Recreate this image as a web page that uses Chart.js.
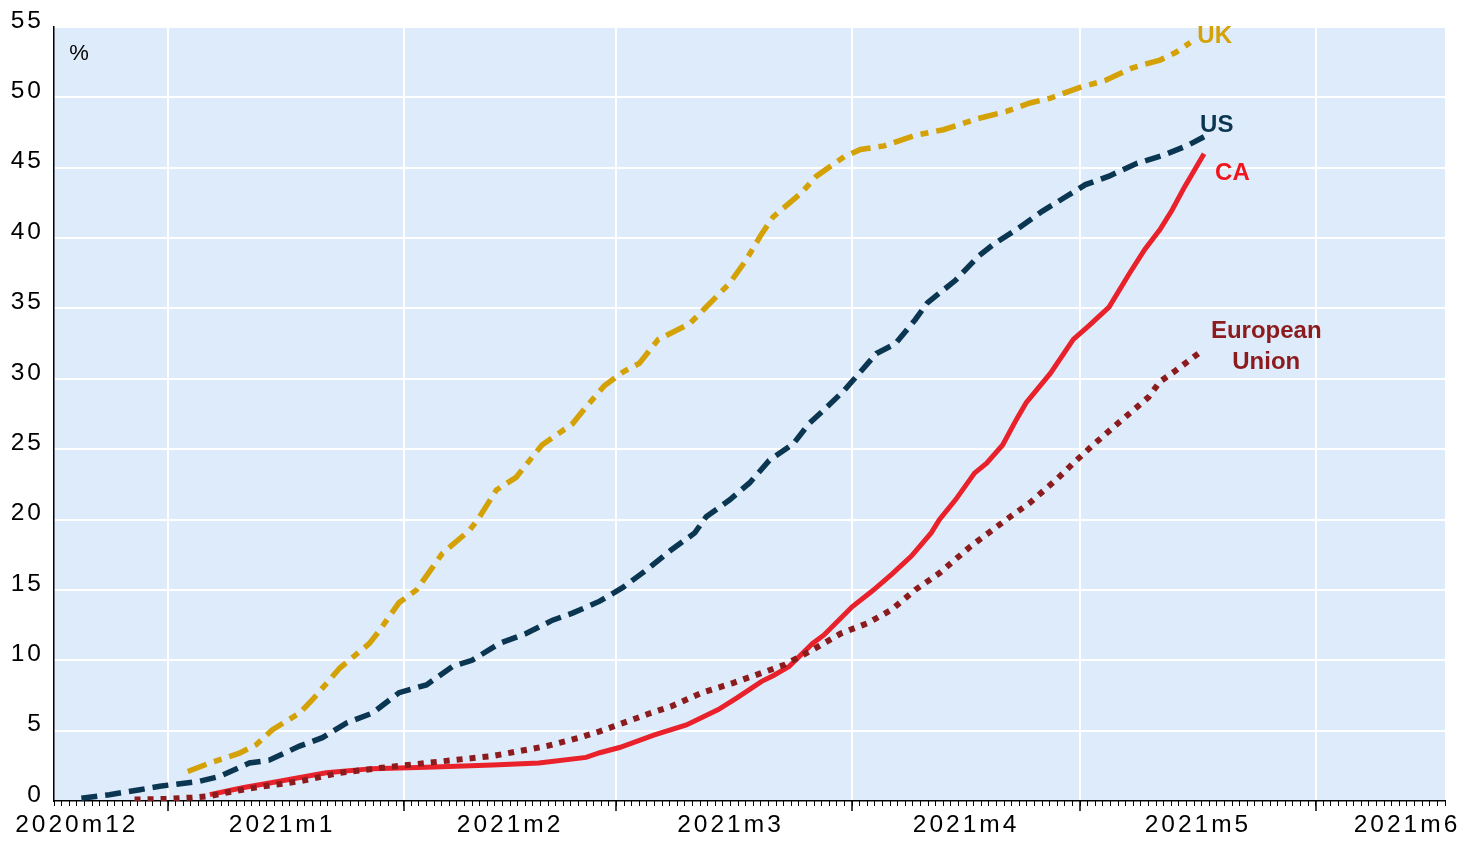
<!DOCTYPE html>
<html>
<head>
<meta charset="utf-8">
<script src="https://cdn.jsdelivr.net/npm/chart.js@4.4.1/dist/chart.umd.min.js"></script>
<style>
  html, body { margin: 0; padding: 0; background: #ffffff; }
  canvas { display: block; }
</style>
</head>
<body>
<canvas id="c" width="1479" height="842"></canvas>
<script>
// x values are days since 2021-01-01
const xMin = -15;
const xMax = 168;
const monthStartDays = [0, 31, 59, 90, 120, 151];
const monthLabelDays = [-12, 15, 45, 74, 105, 135.5, 163];
const monthLabels = ['2020m12', '2021m1', '2021m2', '2021m3', '2021m4', '2021m5', '2021m6'];

const ukDays = [2.6, 5.5, 9.4, 11.6, 13.7, 17.3, 19.0, 22.6, 26.5, 27.8, 30.4, 32.7, 36.1, 39.7, 41.0, 43.2, 45.8, 49.2, 53.2, 55.0, 57.4, 59.9, 62.0, 64.5, 68.6, 70.8, 73.9, 76.0, 78.1, 79.6, 83.3, 85.3, 89.0, 91.1, 94.2, 98.3, 102.0, 106.6, 110.3, 113.4, 116.1, 120.2, 123.3, 126.9, 130.5, 132.6, 134.5];
const ukValues = [2.1, 2.7, 3.4, 4.0, 5.05, 6.25, 7.2, 9.45, 11.2, 12.1, 14.1, 15.0, 17.6, 19.25, 20.2, 22.1, 23.0, 25.3, 26.8, 28.0, 29.5, 30.5, 31.1, 32.8, 33.9, 35.1, 36.8, 38.4, 40.3, 41.5, 43.2, 44.4, 45.8, 46.3, 46.55, 47.3, 47.7, 48.5, 49.0, 49.6, 49.95, 50.75, 51.2, 52.1, 52.65, 53.2, 53.9];

const usDays = [-11.4, -7.7, -3.7, -1.1, 4.1, 6.8, 10.7, 13.3, 17.3, 20.3, 23.5, 26.9, 30.4, 34.0, 37.4, 40.0, 43.6, 47.1, 50.6, 53.2, 56.8, 59.9, 62.9, 66.1, 69.3, 70.8, 73.9, 76.5, 79.1, 82.3, 84.3, 86.3, 89.0, 91.1, 93.2, 95.7, 98.3, 99.9, 103.6, 106.6, 108.7, 111.9, 115.0, 118.0, 120.7, 123.8, 127.4, 131.0, 134.2, 136.3];
const usValues = [0.2, 0.45, 0.8, 1.05, 1.4, 1.75, 2.7, 2.9, 3.9, 4.5, 5.55, 6.25, 7.7, 8.25, 9.55, 10.0, 11.2, 11.9, 12.85, 13.35, 14.2, 15.2, 16.4, 17.8, 19.05, 20.2, 21.4, 22.6, 24.2, 25.4, 26.8, 27.8, 29.2, 30.5, 31.8, 32.5, 34.2, 35.4, 37.0, 38.7, 39.6, 40.7, 41.9, 42.9, 43.8, 44.4, 45.3, 45.9, 46.6, 47.2];

const caDays = [5.5, 9.8, 14.3, 20.8, 26.9, 34.0, 42.7, 48.8, 55.0, 56.8, 59.4, 64.0, 68.2, 72.4, 74.9, 78.1, 79.6, 81.7, 84.8, 86.3, 90.0, 92.6, 95.2, 97.8, 100.4, 101.5, 103.6, 106.1, 107.7, 109.8, 111.6, 112.9, 116.1, 119.1, 121.2, 123.8, 126.5, 128.5, 130.5, 132.1, 133.7, 136.3];
const caValues = [0.45, 0.94, 1.37, 2.0, 2.3, 2.4, 2.55, 2.7, 3.1, 3.43, 3.8, 4.7, 5.4, 6.5, 7.35, 8.5, 8.9, 9.55, 11.2, 11.8, 13.8, 14.9, 16.1, 17.4, 19.05, 20.0, 21.4, 23.3, 24.0, 25.3, 27.1, 28.3, 30.4, 32.8, 33.8, 35.1, 37.5, 39.2, 40.6, 42.0, 43.6, 46.0];

const euDays = [-4.4, -0.2, 3.2, 5.5, 7.7, 12.0, 17.3, 22.6, 28.7, 35.7, 42.7, 49.8, 54.1, 56.8, 59.9, 63.5, 66.1, 70.3, 74.4, 78.1, 81.2, 84.8, 88.5, 92.1, 95.2, 98.3, 101.5, 105.6, 110.3, 113.4, 117.1, 119.1, 121.7, 124.9, 129.0, 130.5, 132.6, 135.8];
const euValues = [0.1, 0.15, 0.25, 0.35, 0.6, 1.0, 1.4, 2.0, 2.4, 2.8, 3.2, 3.9, 4.5, 4.95, 5.55, 6.25, 6.7, 7.7, 8.4, 9.1, 9.7, 10.75, 11.9, 12.65, 13.6, 15.0, 16.2, 18.1, 20.0, 21.2, 22.95, 24.0, 25.3, 26.8, 28.7, 29.8, 30.6, 31.9];

const seriesNames = ['UK', 'US', 'European Union', 'CA'];
const seriesColors = ['#D4A106', '#0B3651', '#8C1B1D', '#E9212B'];
const labelColors = ['#D4A106', '#0B3651', '#8C1B1D', '#F0141E'];
const endLabels = [['UK'], ['US'], ['European', 'Union'], ['CA']];

function pts(days, vals) { return days.map((d, i) => ({ x: d, y: vals[i] })); }

const FONT = '"Liberation Sans", Arial, Helvetica, sans-serif';
const TICK_SPACING = '3px';

const decorPlugin = {
  id: 'decor',
  beforeLayout(chart) { chart.ctx.letterSpacing = TICK_SPACING; },
  beforeDraw(chart) {
    const { ctx, chartArea: a } = chart;
    ctx.letterSpacing = TICK_SPACING;
    ctx.save();
    ctx.fillStyle = '#DEEBFA';
    ctx.fillRect(a.left, a.top, a.right - a.left, a.bottom - a.top);
    ctx.restore();
  },
  afterDatasetsDraw(chart) {
    const { ctx, chartArea: a } = chart;
    ctx.save();
    ctx.letterSpacing = '0px';
    ctx.fillStyle = '#000';
    ctx.font = '22px ' + FONT;
    ctx.textAlign = 'center';
    ctx.textBaseline = 'middle';
    ctx.fillText('%', a.left + 25, a.top + 27);
    // end-of-line labels anchored to the last point of each series
    const offsets = [
      { dx: 7, dy: -6, align: 'left' },
      { dx: -4, dy: -11, align: 'left' },
      { dx: 66, dy: -21, align: 'center' },
      { dx: 11, dy: 20, align: 'left' }
    ];
    ctx.font = 'bold 24px ' + FONT;
    chart.data.datasets.forEach((ds, i) => {
      const meta = chart.getDatasetMeta(i);
      const last = meta.data[meta.data.length - 1];
      const o = offsets[i];
      ctx.fillStyle = labelColors[i];
      ctx.textAlign = o.align;
      endLabels[i].forEach((line, k) => {
        ctx.fillText(line, last.x + o.dx, last.y + o.dy + k * 31);
      });
    });
    ctx.restore();
    ctx.letterSpacing = TICK_SPACING;
  }
};

const tickFont = { family: FONT, size: 24.5 };

new Chart(document.getElementById('c'), {
  type: 'line',
  data: {
    datasets: [
      { label: seriesNames[0], data: pts(ukDays, ukValues), borderColor: seriesColors[0], borderWidth: 5.5, borderDash: [20, 8, 8, 8] },
      { label: seriesNames[1], data: pts(usDays, usValues), borderColor: seriesColors[1], borderWidth: 5.5, borderDash: [16, 8] },
      { label: seriesNames[2], data: pts(euDays, euValues), borderColor: seriesColors[2], borderWidth: 6, borderDash: [6, 7] },
      { label: seriesNames[3], data: pts(caDays, caValues), borderColor: seriesColors[3], borderWidth: 5 }
    ].map(d => Object.assign({ pointRadius: 0, pointHoverRadius: 0, tension: 0, fill: false, xAxisID: 'x', yAxisID: 'y' }, d))
  },
  options: {
    responsive: false,
    devicePixelRatio: 1,
    animation: false,
    events: [],
    layout: { padding: { top: 27, right: 34, left: 0, bottom: 0 } },
    plugins: { legend: { display: false }, tooltip: { enabled: false } },
    scales: {
      x: {
        type: 'linear', position: 'bottom', min: xMin, max: xMax,
        afterBuildTicks: s => { s.ticks = monthLabelDays.map(v => ({ value: v })); },
        afterFit: s => { s.height = 41; },
        grid: { display: false, drawTicks: false },
        border: { display: true, color: '#000', width: 1.5 },
        ticks: { autoSkip: false, maxRotation: 0, minRotation: 0, padding: 10, color: '#000', font: tickFont,
          callback: (v, i) => monthLabels[i] }
      },
      xg: {
        type: 'linear', axis: 'x', position: { y: 0 }, min: xMin, max: xMax,
        afterBuildTicks: s => { s.ticks = monthStartDays.map(v => ({ value: v })); },
        grid: { color: '#ffffff', lineWidth: 2, drawTicks: true, tickLength: 10, tickColor: '#000', tickWidth: 1.5 },
        border: { display: false },
        ticks: { display: false, autoSkip: false }
      },
      xd: {
        type: 'linear', axis: 'x', position: { y: 0 }, min: xMin, max: xMax,
        afterBuildTicks: s => { const t = []; for (let d = Math.ceil(xMin); d <= Math.floor(xMax); d++) t.push({ value: d }); s.ticks = t; },
        grid: { drawOnChartArea: false, drawTicks: true, tickLength: 5, tickColor: '#000', tickWidth: 1, color: '#000' },
        border: { display: false },
        ticks: { display: false, autoSkip: false }
      },
      y: {
        type: 'linear', position: 'left', min: 0, max: 55,
        afterFit: s => { s.width = 54; },
        grid: { color: c => (c.tick && c.tick.value === 0) ? 'rgba(0,0,0,0)' : '#ffffff', lineWidth: 2, drawTicks: false },
        border: { display: true, color: '#000', width: 1.5 },
        ticks: { stepSize: 5, padding: 10, labelOffset: -6, color: '#000', font: tickFont }
      }
    }
  },
  plugins: [decorPlugin]
});
</script>
</body>
</html>
